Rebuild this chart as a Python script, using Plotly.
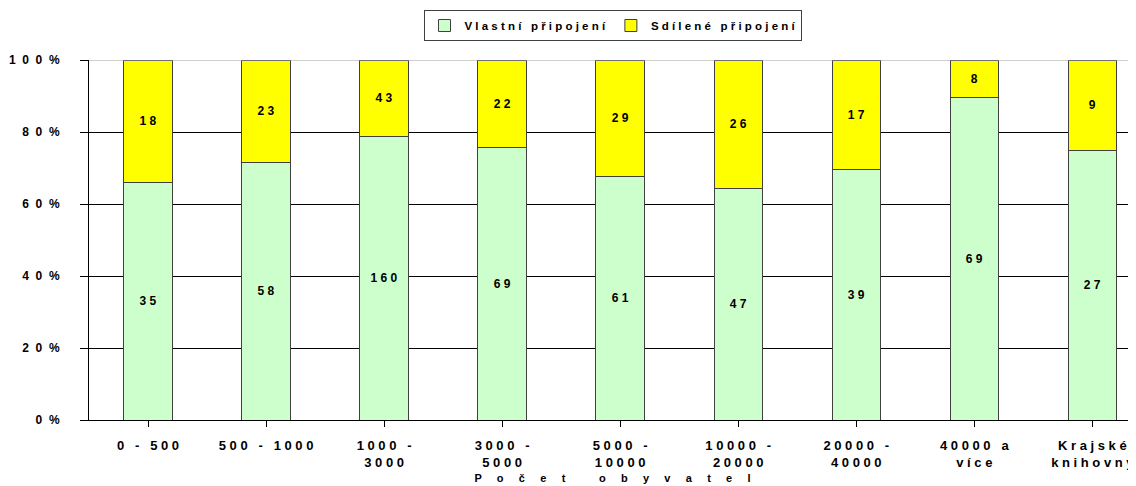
import plotly.graph_objects as go

# data
categories = ['0 - 500', '500 - 1000', '1000 -<br>3000', '3000 -<br>5000', '5000 -<br>10000',
              '10000 -<br>20000', '20000 -<br>40000', '40000 a<br>více', 'Krajské<br>knihovny']
own_connection = [35, 58, 160, 69, 61, 47, 39, 69, 27]
shared_connection = [18, 23, 43, 22, 29, 26, 17, 8, 9]
y_ticks = [0, 20, 40, 60, 80, 100]
y_tick_labels = ['0%', '20%', '40%', '60%', '80%', '100%']


def spaced(s, gap=' '):
    # the original chart is drawn with wide letter spacing
    return '<br>'.join(gap.join(ch for ch in line) for line in s.split('<br>'))


font = dict(family='Liberation Sans, Arial, sans-serif', size=12, color='black', weight='bold')
x_pos = list(range(len(categories)))

# the page body adds an 8px offset, so the figure is 8px smaller than the window
fig = go.Figure(
    data=[
        go.Bar(
            x=x_pos, y=own_connection, name=spaced('Vlastní připojení'),
            marker={'color': '#CCFFCC', 'line': {'color': '#404040', 'width': 1}},
            text=[spaced(str(v)) for v in own_connection],
            textposition='inside', insidetextanchor='middle',
            textfont=dict(font, size=12), textangle=0, hoverinfo='skip'
        ),
        go.Bar(
            x=x_pos, y=shared_connection, name=spaced('Sdílené připojení'),
            marker={'color': '#FFFF00', 'line': {'color': '#404040', 'width': 1}},
            text=[spaced(str(v)) for v in shared_connection],
            textposition='inside', insidetextanchor='middle',
            textfont=dict(font, size=12), textangle=0, hoverinfo='skip'
        ),
    ],
    layout={
        'barmode': 'stack',
        'barnorm': 'percent',
        'bargap': 0.59,
        'width': 1128,
        'height': 478,
        'margin': {'l': 81, 'r': 0, 't': 52, 'b': 66, 'autoexpand': False},
        'paper_bgcolor': 'white',
        'plot_bgcolor': 'white',
        'font': font,
        'uniformtext': {'mode': 'show', 'minsize': 11},
        'legend': {
            'orientation': 'h', 'x': 0.5, 'xanchor': 'center', 'y': 1 + 50 / 360, 'yanchor': 'top',
            'bordercolor': '#404040', 'borderwidth': 1,
            'font': dict(font, size=11.5), 'traceorder': 'normal',
            'itemwidth': 30, 'tracegroupgap': 0,
        },
        'xaxis': {
            'range': [-0.5, 8.37],
            'tickvals': x_pos,
            'ticktext': [spaced(c) for c in categories],
            'ticks': 'outside', 'tickson': 'boundaries', 'ticklen': 6, 'tickcolor': 'black',
            'ticklabelstandoff': 7,
            'showline': True, 'linecolor': 'black', 'linewidth': 1,
            'showgrid': False, 'tickangle': 0,
            'tickfont': dict(font, size=13),
            'title': {'text': spaced('Počet obyvatel', '     '), 'standoff': 5,
                      'font': dict(font, size=11)},
        },
        'yaxis': {
            'range': [0, 100],
            'tickvals': y_ticks,
            'ticktext': [spaced(t, '  ') for t in y_tick_labels],
            'ticks': 'outside', 'ticklen': 8, 'tickcolor': 'black',
            'ticklabelstandoff': 18,
            'showline': True, 'linecolor': 'black', 'linewidth': 1,
            'showgrid': True, 'gridcolor': 'black', 'gridwidth': 1,
            'tickfont': dict(font, size=12),
            'zeroline': False,
        },
    }
)
fig.add_shape(type='line', xref='paper', yref='y', x0=0, x1=1, y0=100, y1=100,
              line={'color': '#A0A0A0', 'width': 1})
fig.write_html('out.html')
